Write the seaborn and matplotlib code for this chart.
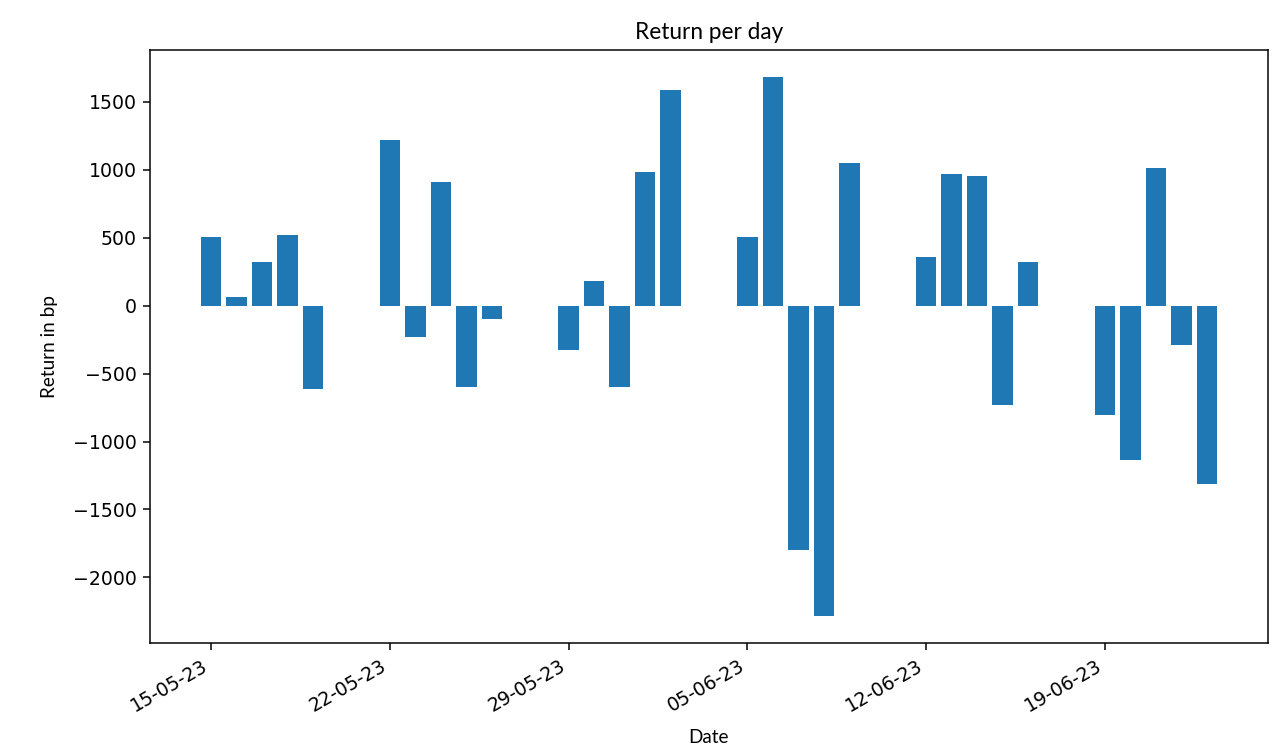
import matplotlib
matplotlib.use("Agg")
import matplotlib.pyplot as plt
import matplotlib.dates as mdates
import seaborn as sns
import pandas as pd

dates = ["2023-05-15", "2023-05-16", "2023-05-17", "2023-05-18", "2023-05-19",
         "2023-05-22", "2023-05-23", "2023-05-24", "2023-05-25", "2023-05-26",
         "2023-05-29", "2023-05-30", "2023-05-31", "2023-06-01", "2023-06-02",
         "2023-06-05", "2023-06-06", "2023-06-07", "2023-06-08", "2023-06-09",
         "2023-06-12", "2023-06-13", "2023-06-14", "2023-06-15", "2023-06-16",
         "2023-06-19", "2023-06-20", "2023-06-21", "2023-06-22", "2023-06-23"]
returns_bp = [505, 66, 322, 518, -610,
              1220, -234, 910, -598, -96,
              -325, 183, -601, 985, 1585,
              503, 1684, -1801, -2285, 1052,
              362, 972, 952, -731, 318,
              -802, -1134, 1013, -290, -1316]

df = pd.DataFrame({"Date": pd.to_datetime(dates), "Return in bp": returns_bp})

fig, ax = plt.subplots(figsize=(1275 / 136, 746 / 136), dpi=136)
sns.barplot(data=df, x="Date", y="Return in bp", native_scale=True,
            color=sns.color_palette("tab10")[0], saturation=1, linewidth=0,
            width=0.8, errorbar=None, ax=ax)

ax.xaxis.set_major_locator(mdates.WeekdayLocator(byweekday=mdates.MO))
ax.xaxis.set_major_formatter(mdates.DateFormatter("%d-%m-%y"))
ax.margins(x=0.05, y=0.05)
for lbl in ax.get_xticklabels():
    lbl.set_rotation(30)
    lbl.set_ha("right")

lab_font = ["Lato", "DejaVu Sans"]
ax.set_title("Return per day", fontsize=12, family=lab_font)
ax.set_xlabel("Date", fontsize=10, family=lab_font, labelpad=7)
ax.set_ylabel("Return in bp", fontsize=10, family=lab_font, labelpad=8)

fig.subplots_adjust(left=150 / 1275, right=1268 / 1275, top=1 - 50 / 746, bottom=1 - 643 / 746)
fig.savefig("out.png", dpi=136)
